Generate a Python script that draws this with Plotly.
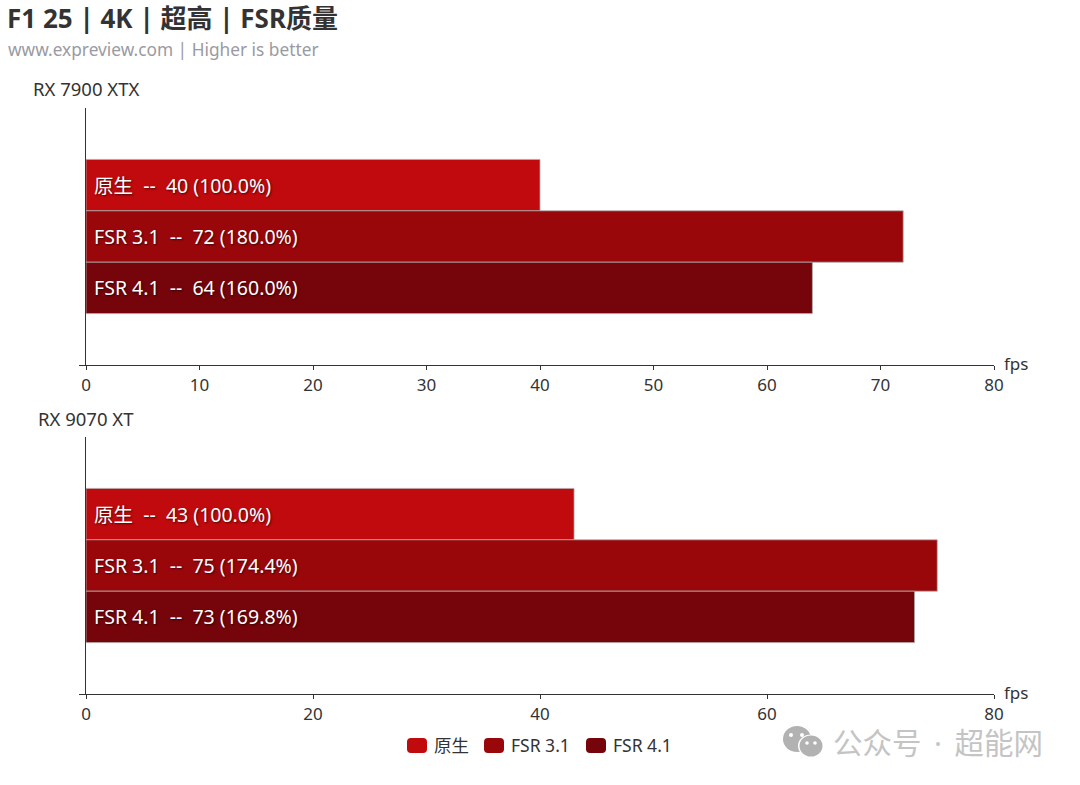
import plotly.graph_objects as go

W, H = 1080, 785
FONT = "Noto Sans, Noto Sans CJK SC, sans-serif"
series = ["原生", "FSR 3.1", "FSR 4.1"]
colors = ["#c00a0d", "#9a070b", "#75050a"]
gpu_a = "RX 7900 XTX"
gpu_b = "RX 9070 XT"
values_a = [40, 72, 64]
values_b = [43, 75, 73]
ticks_a = [0, 10, 20, 30, 40, 50, 60, 70, 80]
ticks_b = [0, 20, 40, 60, 80]
title = "F1 25 | 4K | 超高 | FSR质量"
subtitle = "www.expreview.com | Higher is better"
NB = "\u00a0"
X0, X1 = 86, 994

fig = go.Figure()


def label(name, v, base):
    return f"{NB}{name}{NB}{NB}--{NB}{NB}{v} ({v / base * 100:.1f}%)"


for idx, vals in enumerate([values_a, values_b]):
    for name, c, v in zip(series, colors, vals):
        fig.add_bar(
            x=[v], y=[0], orientation="h", name=name,
            marker=dict(color=c, line=dict(color="rgba(175,175,175,0.75)", width=1)),
            text=[label(name, v, vals[0])], textposition="inside",
            insidetextanchor="start", constraintext="none",
            textangle=0,
            textfont=dict(color="#ffffff", size=19.5, family=FONT, shadow="1px 1px 2px rgba(0,0,0,0.6)"),
            xaxis="x" if idx == 0 else "x2", yaxis="y" if idx == 0 else "y2",
            offsetgroup=name, showlegend=False,
            hoverinfo="skip",
        )


def xax(ticks, anchor):
    return dict(
        domain=[X0 / W, X1 / W], range=[0, 80], anchor=anchor, tickmode="array", tickvals=ticks,
        automargin=False,
        showgrid=False, zeroline=False, showline=True, linecolor="#333333", linewidth=1.3,
        ticks="outside", ticklen=4, tickcolor="#333333", tickwidth=1,
        tickfont=dict(size=17, color="#333333", family=FONT),
    )


def yax(top, bottom, anchor):
    return dict(
        domain=[1 - bottom / H, 1 - top / H], range=[0.5, -0.5], anchor=anchor, tickmode="array", tickvals=[0.5],
        automargin=False,
        ticktext=[""], showgrid=False, zeroline=False, showline=True, linecolor="#333333", linewidth=1.3,
        ticks="outside", ticklen=6, tickcolor="#333333", tickwidth=1,
    )


def txt(x, y, text, size, color, anchor="left", weight=None):
    t = f"<b>{text}</b>" if weight else text
    return dict(text=t, x=x / W, y=1 - y / H, xref="paper", yref="paper", showarrow=False,
                xanchor=anchor, yanchor="middle", font=dict(size=size, color=color, family=FONT))


annotations = [
    txt(5, 18, title, 26, "#333333", weight=True),
    txt(6, 50, subtitle, 17.3, "#9a9aa2"),
    txt(86, 89, gpu_a, 18.5, "#333333", "center"),
    txt(86, 418, gpu_b, 18.5, "#333333", "center"),
    txt(1002, 363, "fps", 17, "#333333"),
    txt(1002, 692, "fps", 17, "#333333"),
    txt(831, 742, f"公众号{NB}\u2009·{NB}\u2009超能网", 29.5, "#c4c4c4"),
]

legend_swatch_x = [407, 484, 586]
for sx, name in zip(legend_swatch_x, series):
    annotations.append(txt(sx + 25, 745, name, 17.5, "#333333"))


def circle(cx, cy, rx, ry, color):
    return dict(type="circle", xref="paper", yref="paper", layer="above",
                x0=(cx - rx) / W, x1=(cx + rx) / W, y0=1 - (cy + ry) / H, y1=1 - (cy - ry) / H,
                fillcolor=color, line=dict(width=0))


def swatch(x, y, w, h, r, color):
    fx = lambda v: v / W
    fy = lambda v: 1 - v / H
    p = (f"M{fx(x + r)},{fy(y)} L{fx(x + w - r)},{fy(y)} Q{fx(x + w)},{fy(y)} {fx(x + w)},{fy(y + r)} "
         f"L{fx(x + w)},{fy(y + h - r)} Q{fx(x + w)},{fy(y + h)} {fx(x + w - r)},{fy(y + h)} "
         f"L{fx(x + r)},{fy(y + h)} Q{fx(x)},{fy(y + h)} {fx(x)},{fy(y + h - r)} "
         f"L{fx(x)},{fy(y + r)} Q{fx(x)},{fy(y)} {fx(x + r)},{fy(y)} Z")
    return dict(type="path", path=p, xref="paper", yref="paper", fillcolor=color, line=dict(width=0), layer="above")


shapes = [swatch(sx, 738, 20, 15, 4, c) for sx, c in zip(legend_swatch_x, colors)]
shapes += [
    circle(797, 739, 14, 13, "#b2b2b2"),
    circle(791, 735, 2, 2, "#ffffff"),
    circle(802, 735, 2, 2, "#ffffff"),
    circle(811, 746, 13, 11.5, "#ffffff"),
    circle(811, 746, 11.5, 10.5, "#b2b2b2"),
    circle(807, 743, 1.8, 1.8, "#ffffff"),
    circle(815, 743, 1.8, 1.8, "#ffffff"),
]

fig.update_layout(
    width=W, height=H, autosize=False, margin=dict(l=0, r=0, t=0, b=0),
    paper_bgcolor="#ffffff", plot_bgcolor="#ffffff",
    barmode="group", bargap=0.4, bargroupgap=0,
    font=dict(family=FONT, color="#333333"),
    showlegend=False,
    xaxis=xax(ticks_a, "y"), yaxis=yax(108, 365, "x"),
    xaxis2=xax(ticks_b, "y2"), yaxis2=yax(437, 694, "x2"),
    annotations=annotations, shapes=shapes,
)
fig.write_html("out.html", config={"displayModeBar": False},
               post_script="document.body.style.margin='0';")
